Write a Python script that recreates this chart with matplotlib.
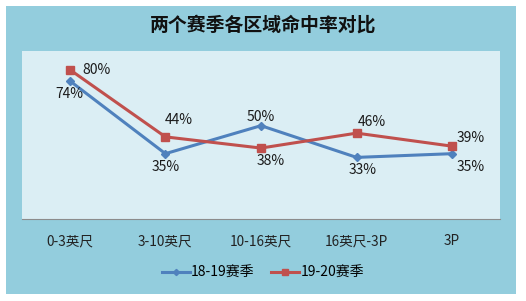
import matplotlib
matplotlib.use("Agg")
import matplotlib.pyplot as plt
from matplotlib.patches import Rectangle

plt.rcParams['font.family'] = ['Noto Sans CJK SC', 'DejaVu Sans']

# -- data ---------------------------------------------------------------------
categories = ["0-3英尺", "3-10英尺", "10-16英尺", "16英尺-3P", "3P"]
season_1819 = [74, 35, 50, 33, 35]
season_1920 = [80, 44, 38, 46, 39]
series_names = ["18-19赛季", "19-20赛季"]

BLUE = "#4F81BD"
RED = "#C0504D"
OUTER = "#93CDDD"
INNER = "#DBEEF4"

W, H = 526, 301
fig = plt.figure(figsize=(W / 100, H / 100), dpi=100, facecolor="white")

# outer chart box
fig.patches.append(Rectangle((6 / W, 1 - 294 / H), 510 / W, 288 / H,
                             transform=fig.transFigure, facecolor=OUTER,
                             edgecolor="none", zorder=-5))

ax = fig.add_axes([22 / W, 1 - 219 / H, 478 / W, 168 / H])
ax.set_zorder(2)
ax.set_facecolor(INNER)
x = list(range(len(categories)))

ax.plot(x, season_1819, color=BLUE, lw=2.2, marker="D", ms=4.5,
        label=series_names[0], zorder=3)
ax.plot(x, season_1920, color=RED, lw=2.2, marker="s", ms=6,
        label=series_names[1], zorder=3)

ax.set_xlim(-0.5, len(categories) - 0.5)
ax.set_ylim(0, 90)
ax.set_yticks([])
ax.set_xticks(x)
ax.set_xticklabels(categories, fontsize=9.8, color="#222222")
ax.tick_params(axis="x", length=0, pad=11)
for s in ["top", "left", "right"]:
    ax.spines[s].set_visible(False)
ax.spines["bottom"].set_color("#8C8C8C")

# data labels: (dx, dy) in points relative to the marker
blue_off = [(0, -9.5), (0, -9.5), (0, 6), (4, -9), (13, -9.5)]
red_off = [(19, 0), (9.5, 12), (7, -9.5), (11, 8), (13, 6)]
for xi, v, (dx, dy) in zip(x, season_1819, blue_off):
    ax.annotate(f"{v}%", (xi, v), xytext=(dx, dy), textcoords="offset points",
                ha="center", va="center", fontsize=10, color="#1a1a1a")
for xi, v, (dx, dy) in zip(x, season_1920, red_off):
    ax.annotate(f"{v}%", (xi, v), xytext=(dx, dy), textcoords="offset points",
                ha="center", va="center", fontsize=10, color="#1a1a1a")

fig.suptitle("两个赛季各区域命中率对比", x=0.5, y=1 - 25 / H, va="center",
             fontsize=13.6, fontweight="heavy", color="#111111")

fig.legend(loc="center", bbox_to_anchor=(263 / W, 1 - 273 / H), ncol=2,
           frameon=False, fontsize=10, handlelength=2.0, columnspacing=1.2,
           handletextpad=0.1, markerscale=0.7)

fig.savefig("out.png", dpi=100, facecolor="white")
